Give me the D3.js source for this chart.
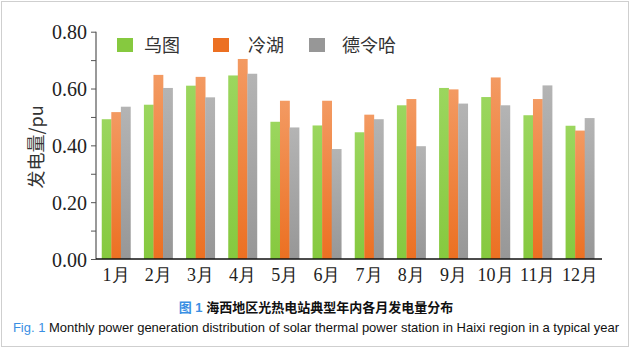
<!DOCTYPE html>
<html><head><meta charset="utf-8">
<script src="https://cdn.jsdelivr.net/npm/d3@7/dist/d3.min.js"></script>
<style>html,body{margin:0;padding:0;background:#fff;}svg{display:block;}</style>
</head><body>
<script>
const months = ["1月","2月","3月","4月","5月","6月","7月","8月","9月","10月","11月","12月"];
const seriesNames = ["乌图","冷湖","德令哈"];
const wutu   = [0.492,0.543,0.610,0.646,0.483,0.470,0.446,0.541,0.602,0.570,0.506,0.469];
const lenghu = [0.517,0.648,0.641,0.704,0.557,0.557,0.508,0.563,0.597,0.639,0.563,0.452];
const delingha=[0.536,0.602,0.569,0.652,0.463,0.387,0.492,0.397,0.547,0.541,0.611,0.496];
const yTicks = [0,0.2,0.4,0.6,0.8];
const captionCN = "海西地区光热电站典型年内各月发电量分布";
const captionEN = "Monthly power generation distribution of solar thermal power station in Haixi region in a typical year";

const W=632,H=349;
const svg=d3.select("body").append("svg").attr("width",W).attr("height",H);
const defs=svg.append("defs");
const colors=[["#9bd65e","#86c93f"],["#f39a62","#ec7022"],["#b4b4b4","#979797"]];
colors.forEach((c,i)=>{
  const g=defs.append("linearGradient").attr("id","g"+i).attr("x1",0).attr("y1",0).attr("x2",0).attr("y2",1);
  g.append("stop").attr("offset","0%").attr("stop-color",c[0]);
  g.append("stop").attr("offset","100%").attr("stop-color",c[1]);
});
svg.append("rect").attr("x",1.5).attr("y",1.5).attr("width",627).attr("height",345)
  .attr("fill","#fff").attr("stroke","#cfcfcf").attr("stroke-width",1);

const x0=96,x1=602,yTop=31.7,yBot=259;
const y=d3.scaleLinear().domain([0,0.8]).range([yBot,yTop]);
const x=d3.scaleBand().domain(months).range([x0-1,x1-1]).paddingInner(0.32).paddingOuter(0.16);
const xs=d3.scaleBand().domain([0,1,2]).range([0,x.bandwidth()]);
const data=[wutu,lenghu,delingha];

const gBars=svg.append("g");
months.forEach((m,i)=>{
  data.forEach((s,j)=>{
    gBars.append("rect").attr("x",x(m)+xs(j)).attr("y",y(s[i]))
      .attr("width",xs.bandwidth()+0.3).attr("height",yBot-y(s[i]))
      .attr("fill","url(#g"+j+")");
  });
});

const serif="'Liberation Serif','Times New Roman',serif";
// y axis
const yAxis=d3.axisLeft(y).tickValues(yTicks).tickFormat(d3.format(".2f")).tickSize(5).tickPadding(4);
const ga=svg.append("g").attr("transform",`translate(${x0},0)`).call(yAxis);
ga.select(".domain").attr("stroke","#555").attr("stroke-width",1.2).attr("d",`M0,${yTop}V${yBot}`);
ga.selectAll(".tick line").attr("stroke","#555");
ga.selectAll("text").attr("font-family",serif).attr("font-size",20).attr("fill","#222").attr("dy","0.35em");
const minor=d3.axisLeft(y).tickValues([0.1,0.3,0.5,0.7]).tickSize(5).tickFormat("");
const gm=svg.append("g").attr("transform",`translate(${x0},0)`).call(minor);
gm.select(".domain").remove();gm.selectAll("line").attr("stroke","#555");

// x axis
const xAxis=d3.axisBottom(x).tickSize(0).tickPadding(9);
const gx=svg.append("g").attr("transform",`translate(0,${yBot})`).call(xAxis);
gx.select(".domain").attr("stroke","#111").attr("stroke-width",1.5).attr("d",`M${x0},0H${x1}`);
gx.selectAll("text").attr("font-family",serif).attr("font-size",18).attr("fill","#222").attr("dy","0.7em");

// y label
svg.append("text").attr("transform",`translate(43,147) rotate(-90)`).attr("text-anchor","middle")
  .attr("font-family","'Noto Sans CJK SC',serif").attr("font-size",18).attr("fill","#333").text("发电量/pu");

// legend
const legX=[117,213,309],legTX=[144,248,342];
seriesNames.forEach((n,j)=>{
  svg.append("rect").attr("x",legX[j]).attr("y",38).attr("width",16).attr("height",14).attr("fill",colors[j][1]);
  svg.append("text").attr("x",legTX[j]).attr("y",51.5).attr("font-family","'Noto Sans CJK SC',serif")
    .attr("font-size",18).attr("fill","#333").text(n);
});

// captions
const c1=svg.append("text").attr("x",316).attr("y",312).attr("text-anchor","middle")
  .attr("font-family","'Liberation Sans',Arial,'Noto Sans CJK SC',sans-serif").attr("font-size",13).attr("font-weight","bold");
c1.append("tspan").attr("fill","#3a8fe3").text("图 1 ");
c1.append("tspan").attr("fill","#111").attr("font-family","'Noto Sans CJK SC',sans-serif").text(captionCN);
const c2=svg.append("text").attr("x",316).attr("y",332).attr("text-anchor","middle")
  .attr("font-family","'Liberation Sans',Arial,sans-serif").attr("font-size",13);
c2.append("tspan").attr("fill","#3a8fe3").text("Fig. 1 ");
c2.append("tspan").attr("fill","#111").text(captionEN);
</script>
</body></html>
